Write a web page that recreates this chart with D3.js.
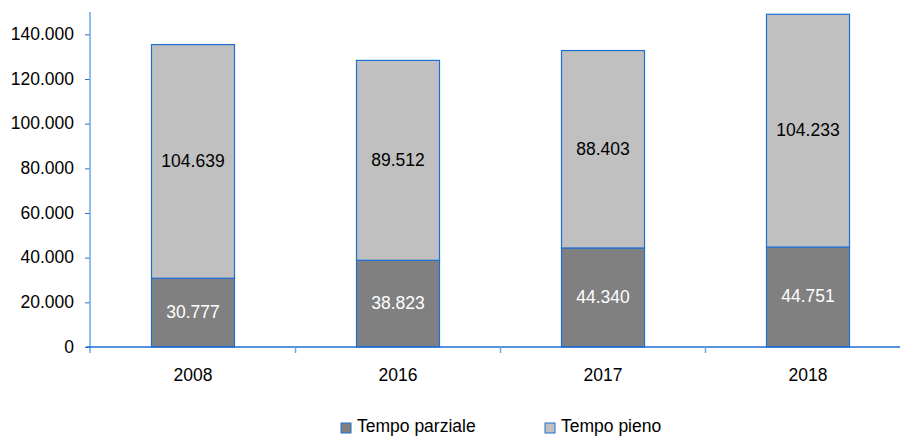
<!DOCTYPE html>
<html>
<head>
<meta charset="utf-8">
<script src="https://cdn.jsdelivr.net/npm/d3@7"></script>
<style>
  body { margin: 0; background: #fff; }
  svg { display: block; font-family: "Liberation Sans", Arial, sans-serif; }
</style>
</head>
<body>
<svg id="chart" width="900" height="436"></svg>
<script>
// data
const years = ['2008', '2016', '2017', '2018'];
const parziale = [30777, 38823, 44340, 44751];
const pieno = [104639, 89512, 88403, 104233];
const seriesNames = ['Tempo parziale', 'Tempo pieno'];
const yTicks = [0, 20000, 40000, 60000, 80000, 100000, 120000, 140000];

const fmt = v => d3.format(',')(v).replace(/,/g, '.');

const svg = d3.select('#chart');
const x = d3.scaleBand().domain(years).range([90.5, 910.5]).paddingInner(0.595).paddingOuter(0.2975);
const y = d3.scaleLinear().domain([0, 150000]).range([347, 12]);

const rows = years.map((yr, i) => ({ year: yr, parziale: parziale[i], pieno: pieno[i] }));
const stack = d3.stack().keys(['parziale', 'pieno'])(rows);
const fills = ['#808080', '#c0c0c0'];
const textColors = ['#ffffff', '#000000'];

// y axis
const yAxis = svg.append('g')
  .attr('transform', 'translate(90,0)')
  .call(d3.axisLeft(y).tickValues(yTicks).tickFormat(fmt).tickSize(5).tickSizeOuter(0));
yAxis.select('.domain').remove();
yAxis.append('line')
  .attr('x1', 0).attr('x2', 0).attr('y1', 12).attr('y2', 353)
  .attr('stroke', '#6ea6ea').attr('stroke-width', 1.5);
yAxis.selectAll('.tick line').attr('stroke', '#2a74d0');
yAxis.selectAll('.tick text').attr('x', -16).attr('dy', '0.3em')
  .attr('font-size', 17.5).attr('fill', '#000');

// bars
stack.forEach((layer, li) => {
  svg.append('g').selectAll('rect')
    .data(layer)
    .join('rect')
    .attr('x', d => x(d.data.year))
    .attr('y', d => y(d[1]))
    .attr('width', x.bandwidth())
    .attr('height', d => y(d[0]) - y(d[1]))
    .attr('fill', fills[li])
    .attr('stroke', '#1f6ed4')
    .attr('stroke-width', 1.2);

  svg.append('g').selectAll('text')
    .data(layer)
    .join('text')
    .attr('x', d => x(d.data.year) + x.bandwidth() / 2)
    .attr('y', d => (y(d[0]) + y(d[1])) / 2)
    .attr('dy', '0.3em')
    .attr('text-anchor', 'middle')
    .attr('font-size', 17.5)
    .attr('fill', textColors[li])
    .text(d => fmt(d[1] - d[0]));
});

// x axis
const xAxis = svg.append('g').attr('transform', 'translate(0,347)');
xAxis.append('line')
  .attr('x1', 86).attr('x2', 900)
  .attr('stroke', '#1f6ed4').attr('stroke-width', 1.5);
const bounds = years.slice(1).map(yr => x(yr) - x.step() * x.paddingInner() / 2);
xAxis.selectAll('.xtick')
  .data(bounds)
  .join('line')
  .attr('class', 'xtick')
  .attr('x1', d => d).attr('x2', d => d)
  .attr('y1', 0).attr('y2', 6)
  .attr('stroke', '#6ea6ea').attr('stroke-width', 1.5);
xAxis.selectAll('text')
  .data(years)
  .join('text')
  .attr('x', d => x(d) + x.bandwidth() / 2)
  .attr('y', 34)
  .attr('text-anchor', 'middle')
  .attr('font-size', 17.5)
  .text(d => d);

// legend
const legendX = [341, 545];
const legend = svg.append('g').selectAll('g')
  .data(seriesNames)
  .join('g')
  .attr('transform', (d, i) => `translate(${legendX[i]},422)`);
legend.append('rect')
  .attr('y', 1)
  .attr('width', 10).attr('height', 10)
  .attr('fill', (d, i) => fills[i])
  .attr('stroke', '#1f6ed4').attr('stroke-width', 1);
legend.append('text')
  .attr('x', 16).attr('y', 10)
  .attr('font-size', 17.5)
  .text(d => d);
</script>
</body>
</html>
